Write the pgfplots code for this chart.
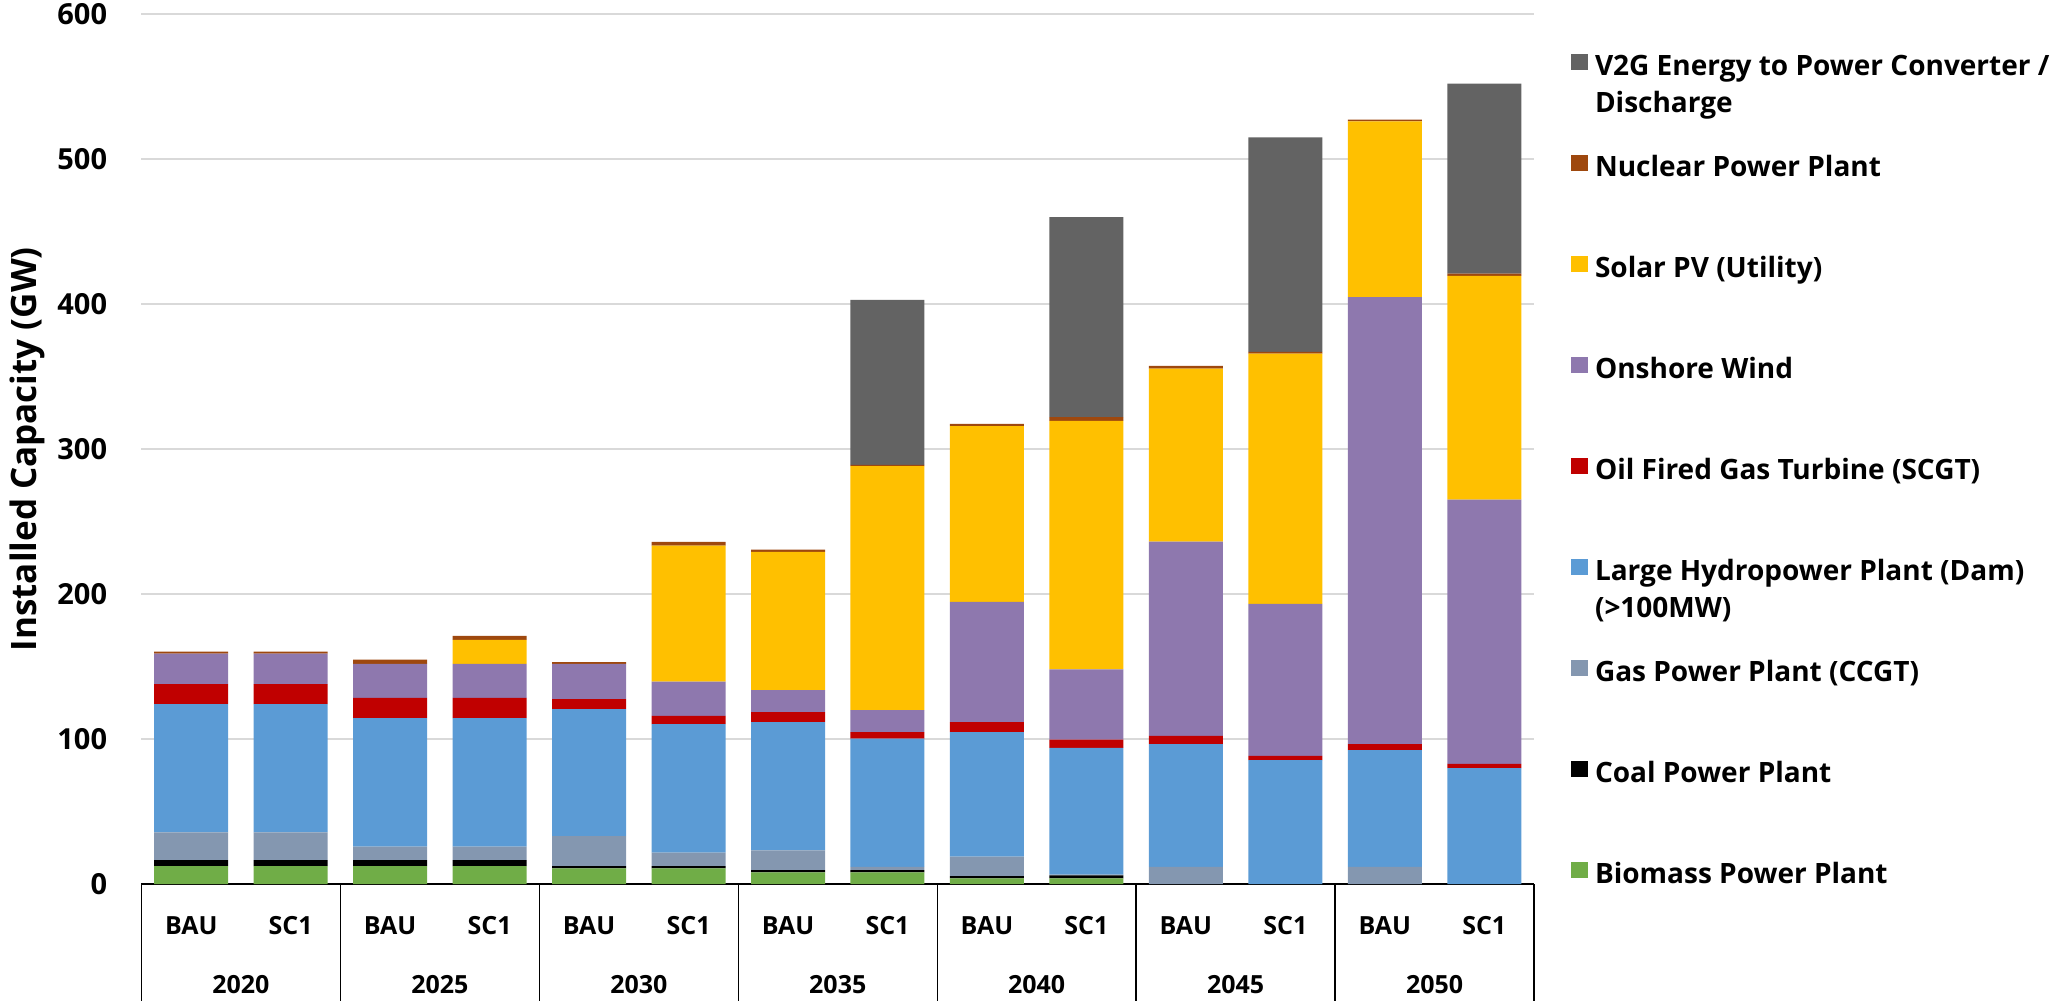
\documentclass[border=0pt]{standalone}
\usepackage{pgfplots}
\pgfplotsset{compat=1.18}
\usepackage{pgfplotstable}
\usepackage{fontspec}
\setmainfont{Open Sans}

\definecolor{cbio}{HTML}{70AD47}
\definecolor{ccoal}{HTML}{000000}
\definecolor{cgas}{HTML}{8497B0}
\definecolor{chydro}{HTML}{5B9BD5}
\definecolor{coil}{HTML}{C00000}
\definecolor{cwind}{HTML}{8E78AE}
\definecolor{csolar}{HTML}{FFC000}
\definecolor{cnuc}{HTML}{9E480E}
\definecolor{cv2g}{HTML}{636363}
\definecolor{gridgray}{HTML}{D9D9D9}

% installed capacity (GW), bars 0..13 = 2020 BAU, 2020 SC1, ..., 2050 SC1
\pgfplotstableread{
x  bio  coal gas  hydro oil  wind  solar nuc v2g
0  12.3 4.2  19.2 88.5  13.8 21.0  0     1.4 0
1  12.3 4.2  19.2 88.5  13.8 21.0  0     1.4 0
2  12.3 4.2  9.3  88.7  13.9 23.5  0     3.0 0
3  12.3 4.2  9.3  88.7  13.9 23.5  16.6  2.7 0
4  10.8 1.5  20.8 87.6  6.9  24.3  0     1.2 0
5  10.8 1.5  9.3  88.7  5.8  23.5  93.9  2.5 0
6  8.0  1.6  13.6 88.5  6.9  15.2  95.4  1.6 0
7  8.0  1.6  2.3  88.5  4.4  15.2  168.3 0.9 113.9
8  3.9  1.6  13.4 85.9  6.9  83.0  121.3 1.5 0
9  3.9  2.0  0.5  87.5  5.8  48.4  171.4 2.7 137.9
10 0    0    11.9 84.6  5.8  134.0 119.4 1.8 0
11 0    0    0    85.4  3.0  104.9 172.6 1.3 148.0
12 0    0    11.9 80.5  4.1  308.4 121.3 1.2 0
13 0    0    0    79.9  3.0  182.3 154.5 1.5 131.1
}\capdata

\pgfplotsset{sqleg/.style={legend image code/.code={\fill[##1] (0pt,2.5pt) rectangle (8.5pt,10.5pt);}}}

\begin{document}
\begin{tikzpicture}
\begin{axis}[
  at={(0,0)}, anchor=south west,
  scale only axis, width=696.25pt, height=434.75pt,
  ybar stacked, bar width=37pt,
  xmin=-0.5, xmax=13.5, ymin=0, ymax=600,
  separate axis lines,
  axis x line*=bottom, axis y line*=left,
  y axis line style={draw=none},
  x axis line style={black, line width=0.7pt},
  ytick={0,100,...,600},
  ymajorgrids, grid style={draw=gridgray, line width=1pt},
  major tick length=0pt,
  xtick={0,...,13},
  xticklabels={BAU,SC1,BAU,SC1,BAU,SC1,BAU,SC1,BAU,SC1,BAU,SC1,BAU,SC1},
  /pgf/number format/assume math mode=true,
  yticklabel style={font=\fontsize{14.5}{17}\selectfont\bfseries, anchor=east, inner sep=0pt, xshift=-17pt},
  xticklabel style={font=\fontsize{12.5}{15}\selectfont\bfseries, anchor=base, inner sep=0pt, yshift=-25pt},
  ylabel={Installed Capacity (GW)},
  every axis y label/.style={at={(axis description cs:0,0.5)}, xshift=-57pt, rotate=90, anchor=center, font=\fontsize{17.5}{20}\selectfont\bfseries},
  clip=false,
  legend cell align=left,
  reverse legend,
  legend style={draw=none, fill=none, inner sep=0pt, outer sep=0pt,
    at={(1,1)}, anchor=north west, xshift=18.5pt, yshift=-17.5pt,
    font=\fontsize{14}{18.5}\selectfont\bfseries,
    row sep={50.5pt,between origins}, column sep=3.5pt,
    cells={anchor=base west}, nodes={inner sep=0pt}},
]
\addplot[fill=cbio, draw=none, sqleg] table[x=x,y=bio]{\capdata};
\addlegendentry{Biomass Power Plant}
\addplot[fill=ccoal, draw=none, sqleg] table[x=x,y=coal]{\capdata};
\addlegendentry{Coal Power Plant}
\addplot[fill=cgas, draw=none, sqleg] table[x=x,y=gas]{\capdata};
\addlegendentry{Gas Power Plant (CCGT)}
\addplot[fill=chydro, draw=none, sqleg] table[x=x,y=hydro]{\capdata};
\addlegendentry{\begin{tabular}[t]{@{}l@{}}Large Hydropower Plant (Dam)\\(>100MW)\end{tabular}}
\addplot[fill=coil, draw=none, sqleg] table[x=x,y=oil]{\capdata};
\addlegendentry{Oil Fired Gas Turbine (SCGT)}
\addplot[fill=cwind, draw=none, sqleg] table[x=x,y=wind]{\capdata};
\addlegendentry{Onshore Wind}
\addplot[fill=csolar, draw=none, sqleg] table[x=x,y=solar]{\capdata};
\addlegendentry{Solar PV (Utility)}
\addplot[fill=cnuc, draw=none, sqleg] table[x=x,y=nuc]{\capdata};
\addlegendentry{Nuclear Power Plant}
\addplot[fill=cv2g, draw=none, sqleg] table[x=x,y=v2g]{\capdata};
\addlegendentry{\begin{tabular}[t]{@{}l@{}}V2G Energy to Power Converter /\\Discharge\end{tabular}}

% category table below the axis
\pgfplotsinvokeforeach{-0.5,1.5,3.5,5.5,7.5,9.5,11.5,13.5}{
  \draw[black, line width=0.7pt] (axis cs:#1,0) -- ++(0pt,-58.5pt);
}
\tikzset{yearlab/.style={anchor=base, inner sep=0pt, yshift=-54.65pt, font=\fontsize{12.5}{15}\selectfont\bfseries}}
\node[yearlab] at (axis cs:0.5,0) {2020};
\node[yearlab] at (axis cs:2.5,0) {2025};
\node[yearlab] at (axis cs:4.5,0) {2030};
\node[yearlab] at (axis cs:6.5,0) {2035};
\node[yearlab] at (axis cs:8.5,0) {2040};
\node[yearlab] at (axis cs:10.5,0) {2045};
\node[yearlab] at (axis cs:12.5,0) {2050};
\end{axis}
\pgfresetboundingbox
\useasboundingbox (-70.75pt,-58.5pt) rectangle (959.75pt,442pt);
\end{tikzpicture}
\end{document}
